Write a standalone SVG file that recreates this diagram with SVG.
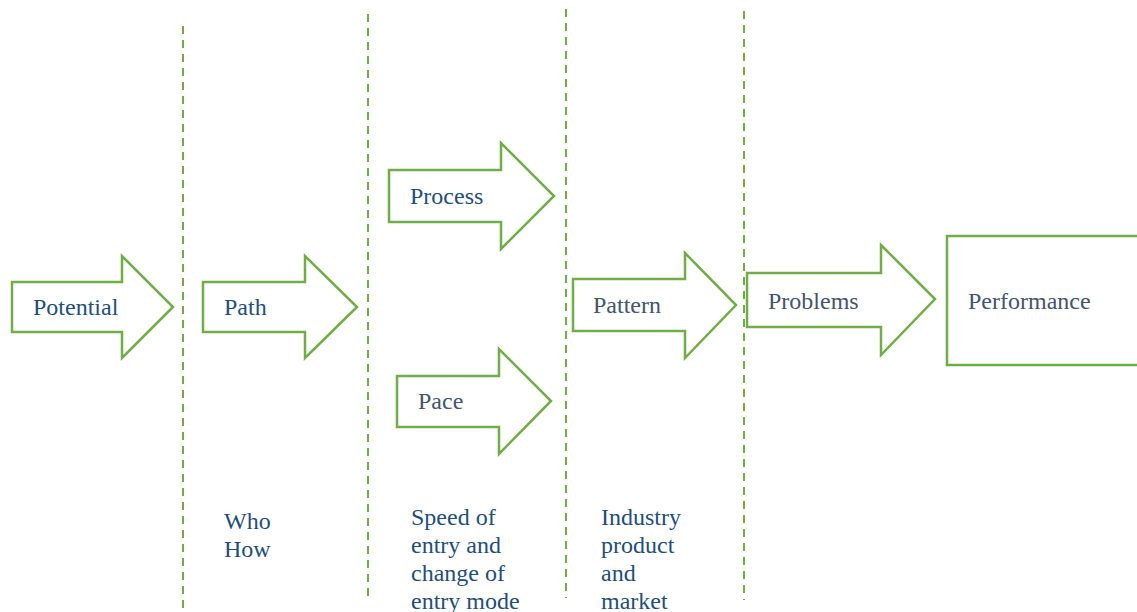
<svg xmlns="http://www.w3.org/2000/svg" width="1137" height="612" viewBox="0 0 1137 612">
  <style>
    .shape { fill: #ffffff; stroke: #70AD47; stroke-width: 2.5; stroke-linejoin: miter; }
    .divider { stroke: #70AD47; stroke-width: 2; stroke-dasharray: 8 6; fill: none; }
    .label { font-family: "Liberation Serif", "Times New Roman", serif; font-size: 24px; }
    .blue { fill: #1F4E79; }
    .slate { fill: #44546A; }
  </style>
  <rect width="1137" height="612" fill="#ffffff"/>

  <!-- dashed stage dividers -->
  <g id="connectors">
    <line class="divider" x1="183" y1="26" x2="183" y2="608"/>
    <line class="divider" x1="368" y1="14" x2="368" y2="602"/>
    <line class="divider" x1="566" y1="9" x2="566" y2="598"/>
    <line class="divider" x1="744" y1="11" x2="744" y2="600"/>
  </g>

  <g id="potential">
    <polygon class="shape" points="12,282 122,282 122,256 173,307 122,358 122,332 12,332"/>
    <text class="label blue" x="33" y="315">Potential</text>
  </g>

  <g id="path">
    <polygon class="shape" points="203,282 305,282 305,256 357,307 305,358 305,332 203,332"/>
    <text class="label blue" x="224" y="315">Path</text>
  </g>

  <g id="process">
    <polygon class="shape" points="389,170 501,170 501,143 554,196 501,249 501,222 389,222"/>
    <text class="label blue" x="410" y="204">Process</text>
  </g>

  <g id="pace">
    <polygon class="shape" points="397,376 499,376 499,349 551,401 499,454 499,427 397,427"/>
    <text class="label slate" x="418" y="409">Pace</text>
  </g>

  <g id="pattern">
    <polygon class="shape" points="573,279 685,279 685,253 736,305 685,358 685,331 573,331"/>
    <text class="label slate" x="593" y="313">Pattern</text>
  </g>

  <g id="problems">
    <polygon class="shape" points="747,273 881,273 881,245 935,299 881,355 881,327 747,327"/>
    <text class="label slate" x="768" y="309">Problems</text>
  </g>

  <g id="performance">
    <rect class="shape" x="947" y="236" width="200" height="129"/>
    <text class="label slate" x="968" y="309">Performance</text>
  </g>

  <g id="who-how">
    <text class="label blue" x="224" y="529">Who</text>
    <text class="label blue" x="224" y="557">How</text>
  </g>

  <g id="speed-note">
    <text class="label blue" x="411" y="525">Speed of</text>
    <text class="label blue" x="411" y="553">entry and</text>
    <text class="label blue" x="411" y="581">change of</text>
    <text class="label blue" x="411" y="609">entry mode</text>
  </g>

  <g id="industry-note">
    <text class="label blue" x="601" y="525">Industry</text>
    <text class="label blue" x="601" y="553">product</text>
    <text class="label blue" x="601" y="581">and</text>
    <text class="label blue" x="601" y="609">market</text>
  </g>
</svg>
